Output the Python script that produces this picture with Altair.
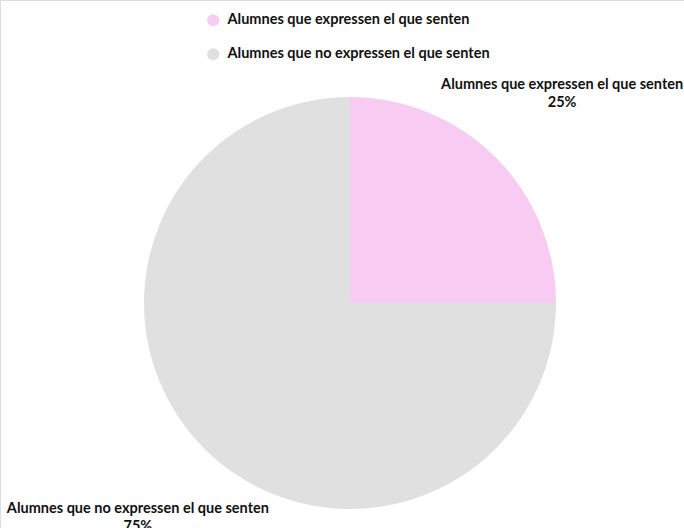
import altair as alt
import pandas as pd

categories = ["Alumnes que expressen el que senten", "Alumnes que no expressen el que senten"]
values = [25, 75]
colors = ["#F8CCF2", "#E0E0E0"]

df = pd.DataFrame({
    "cat": categories,
    "val": values,
    "order": [0, 1],
})
df["label"] = df["cat"] + "\n" + df["val"].astype(str) + "%"

FONT = "Lato"
FS = 14.5
CX, CY = 350, 303

base = alt.Chart(df).encode(
    theta=alt.Theta("val:Q", stack=True),
    order=alt.Order("order:Q"),
)

arc = base.mark_arc(outerRadius=206).encode(
    x=alt.value(CX),
    y=alt.value(CY),
    color=alt.Color(
        "cat:N",
        scale=alt.Scale(domain=categories, range=colors),
        legend=alt.Legend(
            title=None,
            orient="none",
            legendX=206,
            legendY=13,
            direction="vertical",
            symbolType="circle",
            symbolSize=150,
            symbolStrokeWidth=0,
            labelFont=FONT,
            labelFontSize=FS,
            labelFontWeight="bold",
            labelColor="#111111",
            labelLimit=500,
            rowPadding=19,
            padding=0,
            labelOffset=7,
        ),
    ),
)

text = base.mark_text(
    radius=300,
    dy=-6,
    font=FONT,
    fontSize=FS,
    fontWeight="bold",
    color="#111111",
    lineBreak="\n",
    lineHeight=18,
    align="center",
    baseline="middle",
).encode(
    x=alt.value(CX),
    y=alt.value(CY),
    text="label:N",
)

chart = (
    alt.layer(arc, text)
    .properties(width=684, height=528, padding=0, autosize=alt.AutoSizeParams(type="none"))
    .configure_view(stroke=None)
    .configure(background="white")
)

chart.save("out.html", embed_options={"renderer": "svg", "actions": False})
